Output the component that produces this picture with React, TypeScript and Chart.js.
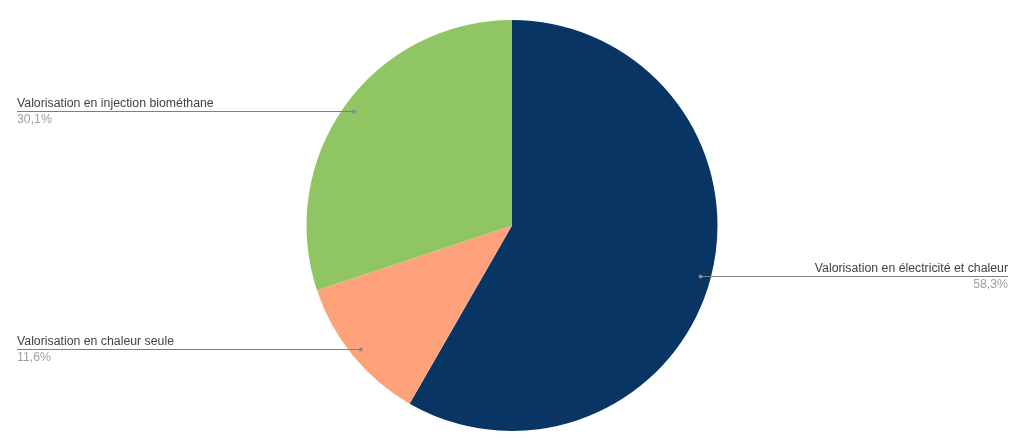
import React, { useEffect, useRef } from "react";
import { Chart, registerables, Plugin } from "chart.js";

Chart.register(...registerables);

const categories = [
  "Valorisation en électricité et chaleur",
  "Valorisation en chaleur seule",
  "Valorisation en injection biométhane",
];
const shares = [58.3, 11.6, 30.1];
const colors = ["#093564", "#fea27b", "#90c564"];

// leader lines + two-line labels, Google Charts style
const leaderLabels: Plugin<"pie"> = {
  id: "leaderLabels",
  afterDraw(chart) {
    const ctx = chart.ctx;
    const meta = chart.getDatasetMeta(0);
    const total = shares.reduce((a, b) => a + b, 0);
    ctx.save();
    meta.data.forEach((el: any, i: number) => {
      const { x, y, startAngle, endAngle, outerRadius } = el.getProps(
        ["x", "y", "startAngle", "endAngle", "outerRadius"],
        true
      );
      const mid = (startAngle + endAngle) / 2;
      const px = x + Math.cos(mid) * outerRadius * 0.95;
      const py = y + Math.sin(mid) * outerRadius * 0.95;
      const right = Math.cos(mid) >= 0;
      const endX = right ? chart.width - 16 : 17;
      const ly = Math.round(py) + 0.5;

      ctx.strokeStyle = "#7f7f7f";
      ctx.lineWidth = 1;
      ctx.beginPath();
      ctx.moveTo(px, ly);
      ctx.lineTo(endX, ly);
      ctx.stroke();

      ctx.fillStyle = "#8a8a8a";
      ctx.beginPath();
      ctx.arc(px, ly, 2, 0, Math.PI * 2);
      ctx.fill();

      ctx.textAlign = right ? "right" : "left";
      ctx.textBaseline = "alphabetic";
      ctx.font = "12.3px 'Liberation Sans', Arial, sans-serif";
      ctx.fillStyle = "#424242";
      ctx.fillText(categories[i], endX, Math.round(py) - 4);
      const pct = ((shares[i] / total) * 100).toFixed(1).replace(".", ",") + "%";
      ctx.fillStyle = "#a0a0a0";
      ctx.fillText(pct, endX, Math.round(py) + 12);
    });
    ctx.restore();
  },
};

export default function App() {
  const canvasRef = useRef<HTMLCanvasElement | null>(null);

  useEffect(() => {
    document.body.style.margin = "0";
    if (!canvasRef.current) return;
    const chart = new Chart(canvasRef.current, {
      type: "pie",
      data: {
        labels: categories,
        datasets: [
          {
            data: shares,
            backgroundColor: colors,
            borderWidth: 0,
          },
        ],
      },
      options: {
        responsive: false,
        animation: false,
        layout: { padding: { top: 20, bottom: 9, left: 0, right: 0 } },
        plugins: {
          legend: { display: false },
          tooltip: { enabled: false },
        },
      },
      plugins: [leaderLabels],
    });
    return () => chart.destroy();
  }, []);

  return (
    <div style={{ width: 1024, height: 440, background: "#fff" }}>
      <canvas ref={canvasRef} width={1024} height={440} />
    </div>
  );
}
